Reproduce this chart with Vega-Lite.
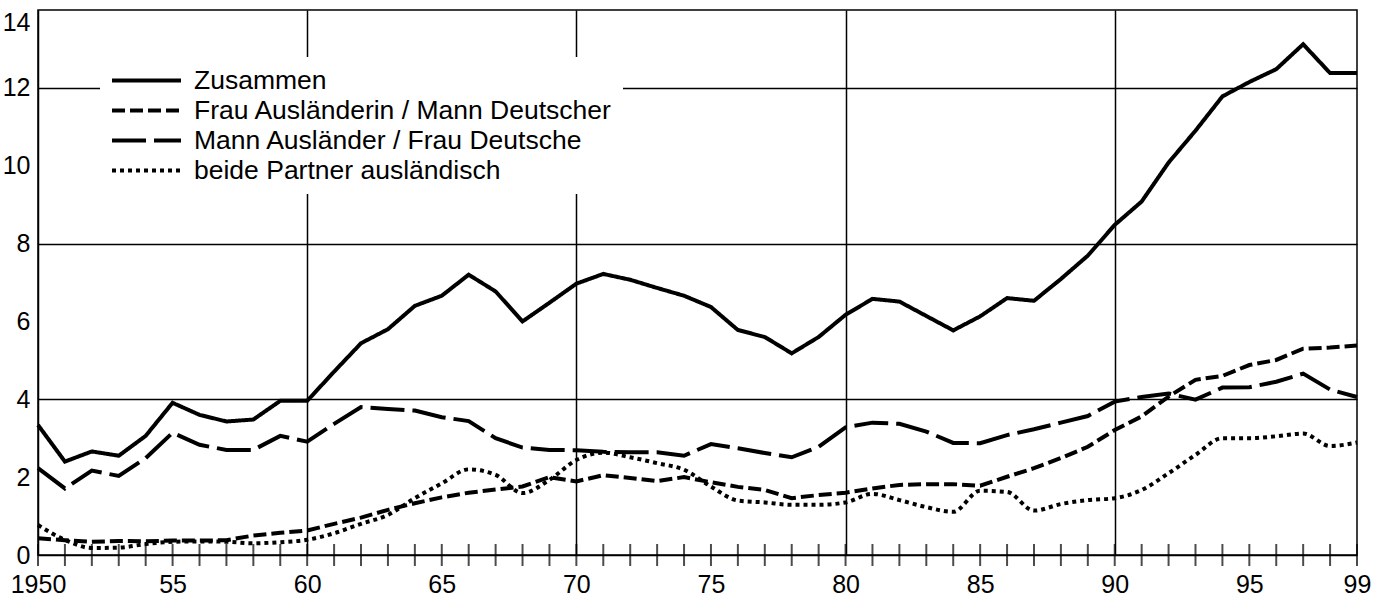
{
  "$schema": "https://vega.github.io/schema/vega-lite/v6.json",
  "width": 1319,
  "height": 545,
  "autosize": "none",
  "padding": {"left": 38, "top": 10, "right": 16, "bottom": 41},
  "background": "white",
  "config": {
    "font": "Liberation Sans",
    "view": {"stroke": "black", "strokeWidth": 1.5}
  },
  "data": {
    "values": [
      {"year": 1950, "z": 3.34, "f": 0.43, "m": 2.23, "b": 0.77},
      {"year": 1951, "z": 2.40, "f": 0.38, "m": 1.71, "b": 0.39},
      {"year": 1952, "z": 2.66, "f": 0.34, "m": 2.17, "b": 0.18},
      {"year": 1953, "z": 2.55, "f": 0.36, "m": 2.03, "b": 0.19},
      {"year": 1954, "z": 3.06, "f": 0.35, "m": 2.49, "b": 0.28},
      {"year": 1955, "z": 3.91, "f": 0.37, "m": 3.14, "b": 0.34},
      {"year": 1956, "z": 3.60, "f": 0.37, "m": 2.83, "b": 0.35},
      {"year": 1957, "z": 3.43, "f": 0.38, "m": 2.70, "b": 0.34},
      {"year": 1958, "z": 3.48, "f": 0.50, "m": 2.70, "b": 0.30},
      {"year": 1959, "z": 3.96, "f": 0.57, "m": 3.06, "b": 0.33},
      {"year": 1960, "z": 3.96, "f": 0.63, "m": 2.91, "b": 0.39},
      {"year": 1961, "z": 4.71, "f": 0.80, "m": 3.37, "b": 0.56},
      {"year": 1962, "z": 5.44, "f": 0.96, "m": 3.80, "b": 0.80},
      {"year": 1963, "z": 5.80, "f": 1.16, "m": 3.75, "b": 1.03},
      {"year": 1964, "z": 6.40, "f": 1.33, "m": 3.71, "b": 1.46},
      {"year": 1965, "z": 6.66, "f": 1.48, "m": 3.54, "b": 1.84},
      {"year": 1966, "z": 7.20, "f": 1.60, "m": 3.44, "b": 2.20},
      {"year": 1967, "z": 6.77, "f": 1.68, "m": 3.00, "b": 2.06},
      {"year": 1968, "z": 6.00, "f": 1.76, "m": 2.76, "b": 1.59},
      {"year": 1969, "z": 6.48, "f": 2.00, "m": 2.70, "b": 1.93},
      {"year": 1970, "z": 6.97, "f": 1.89, "m": 2.69, "b": 2.44},
      {"year": 1971, "z": 7.22, "f": 2.05, "m": 2.65, "b": 2.63},
      {"year": 1972, "z": 7.07, "f": 1.98, "m": 2.64, "b": 2.51},
      {"year": 1973, "z": 6.86, "f": 1.90, "m": 2.64, "b": 2.36},
      {"year": 1974, "z": 6.66, "f": 2.00, "m": 2.55, "b": 2.19},
      {"year": 1975, "z": 6.37, "f": 1.87, "m": 2.85, "b": 1.76},
      {"year": 1976, "z": 5.78, "f": 1.75, "m": 2.74, "b": 1.40},
      {"year": 1977, "z": 5.60, "f": 1.67, "m": 2.62, "b": 1.35},
      {"year": 1978, "z": 5.18, "f": 1.46, "m": 2.51, "b": 1.29},
      {"year": 1979, "z": 5.60, "f": 1.54, "m": 2.78, "b": 1.29},
      {"year": 1980, "z": 6.17, "f": 1.60, "m": 3.28, "b": 1.35},
      {"year": 1981, "z": 6.58, "f": 1.71, "m": 3.40, "b": 1.57},
      {"year": 1982, "z": 6.51, "f": 1.80, "m": 3.37, "b": 1.41},
      {"year": 1983, "z": 6.14, "f": 1.82, "m": 3.17, "b": 1.23},
      {"year": 1984, "z": 5.77, "f": 1.82, "m": 2.88, "b": 1.11},
      {"year": 1985, "z": 6.13, "f": 1.78, "m": 2.87, "b": 1.65},
      {"year": 1986, "z": 6.60, "f": 2.01, "m": 3.08, "b": 1.62},
      {"year": 1987, "z": 6.53, "f": 2.23, "m": 3.23, "b": 1.14},
      {"year": 1988, "z": 7.09, "f": 2.49, "m": 3.40, "b": 1.31},
      {"year": 1989, "z": 7.69, "f": 2.78, "m": 3.57, "b": 1.41},
      {"year": 1990, "z": 8.48, "f": 3.21, "m": 3.94, "b": 1.46},
      {"year": 1991, "z": 9.08, "f": 3.56, "m": 4.06, "b": 1.67},
      {"year": 1992, "z": 10.08, "f": 4.07, "m": 4.15, "b": 2.10},
      {"year": 1993, "z": 10.90, "f": 4.50, "m": 3.99, "b": 2.57},
      {"year": 1994, "z": 11.78, "f": 4.60, "m": 4.30, "b": 3.00},
      {"year": 1995, "z": 12.15, "f": 4.88, "m": 4.31, "b": 3.00},
      {"year": 1996, "z": 12.48, "f": 5.01, "m": 4.45, "b": 3.05},
      {"year": 1997, "z": 13.12, "f": 5.30, "m": 4.66, "b": 3.12},
      {"year": 1998, "z": 12.38, "f": 5.33, "m": 4.25, "b": 2.80},
      {"year": 1999, "z": 12.38, "f": 5.38, "m": 4.06, "b": 2.89}
    ]
  },
  "layer": [
    {
      "transform": [{"fold": ["z", "f", "m"], "as": ["series", "value"]}],
      "mark": {"type": "line", "color": "black", "strokeWidth": 4, "strokeJoin": "miter"},
      "encoding": {
        "x": {
          "field": "year",
          "type": "quantitative",
          "scale": {"domain": [1950, 1999], "nice": false, "zero": false},
          "axis": {
            "title": null,
            "values": [1950,1955,1960,1965,1970,1975,1980,1985,1990,1995,1999],
            "labelExpr": "datum.value == 1950 ? '1950' : substring(toString(datum.value), 2)",
            "labelOverlap": false,
            "labelBound": false,
            "labelFlush": false,
            "labelFontSize": 25,
            "labelColor": "black",
            "labelPadding": 17,
            "ticks": false,
            "domainColor": "black",
            "domainWidth": 1.5,
            "grid": true,
            "gridColor": "black",
            "gridWidth": 1.5,
            "gridOpacity": {"condition": {"test": "datum.value % 10 == 0 && datum.value != 1950", "value": 1}, "value": 0}
          }
        },
        "y": {
          "field": "value",
          "type": "quantitative",
          "scale": {"domain": [0, 14], "nice": false},
          "axis": {
            "title": null,
            "values": [0, 2, 4, 6, 8, 10, 12, 14],
            "labelFontSize": 25,
            "labelColor": "black",
            "labelPadding": 8,
            "labelFlush": false,
            "labelBaseline": {"condition": {"test": "datum.value == 14", "value": "top"}, "value": "middle"},
            "ticks": false,
            "domainColor": "black",
            "domainWidth": 1.5,
            "grid": true,
            "gridColor": "black",
            "gridWidth": 1.5,
            "gridOpacity": {"condition": {"test": "datum.value == 4 || datum.value == 8 || datum.value == 12", "value": 1}, "value": 0}
          }
        },
        "strokeDash": {
          "field": "series",
          "type": "nominal",
          "scale": {"domain": ["z", "f", "m", "b"], "range": [[1, 0], [13, 5], [34, 8], [4, 4]]},
          "legend": {
            "title": null,
            "orient": "none",
            "legendX": 62,
            "legendY": 47,
            "fillColor": "white",
            "padding": 10,
            "symbolType": "M-1,0H5",
            "symbolSize": 529,
            "symbolStrokeWidth": 4,
            "symbolStrokeColor": "black",
            "symbolFillColor": "transparent",
            "labelFontSize": 26.5,
            "labelColor": "black",
            "labelOffset": 57,
            "labelLimit": 0,
            "rowPadding": 3,
            "labelExpr": "datum.value == 'z' ? 'Zusammen' : datum.value == 'f' ? 'Frau Ausländerin / Mann Deutscher' : datum.value == 'm' ? 'Mann Ausländer / Frau Deutsche' : 'beide Partner ausländisch'"
          }
        }
      }
    },
    {
      "transform": [{"fold": ["b"], "as": ["series", "value"]}],
      "mark": {"type": "line", "color": "black", "strokeWidth": 4, "interpolate": "monotone"},
      "encoding": {
        "x": {"field": "year", "type": "quantitative"},
        "y": {"field": "value", "type": "quantitative"},
        "strokeDash": {"field": "series", "type": "nominal"}
      }
    },
    {
      "mark": {"type": "tick", "orient": "vertical", "color": "black", "thickness": 2, "size": 22},
      "encoding": {
        "x": {"field": "year", "type": "quantitative"},
        "y": {"datum": 0, "type": "quantitative"}
      }
    }
  ]
}
